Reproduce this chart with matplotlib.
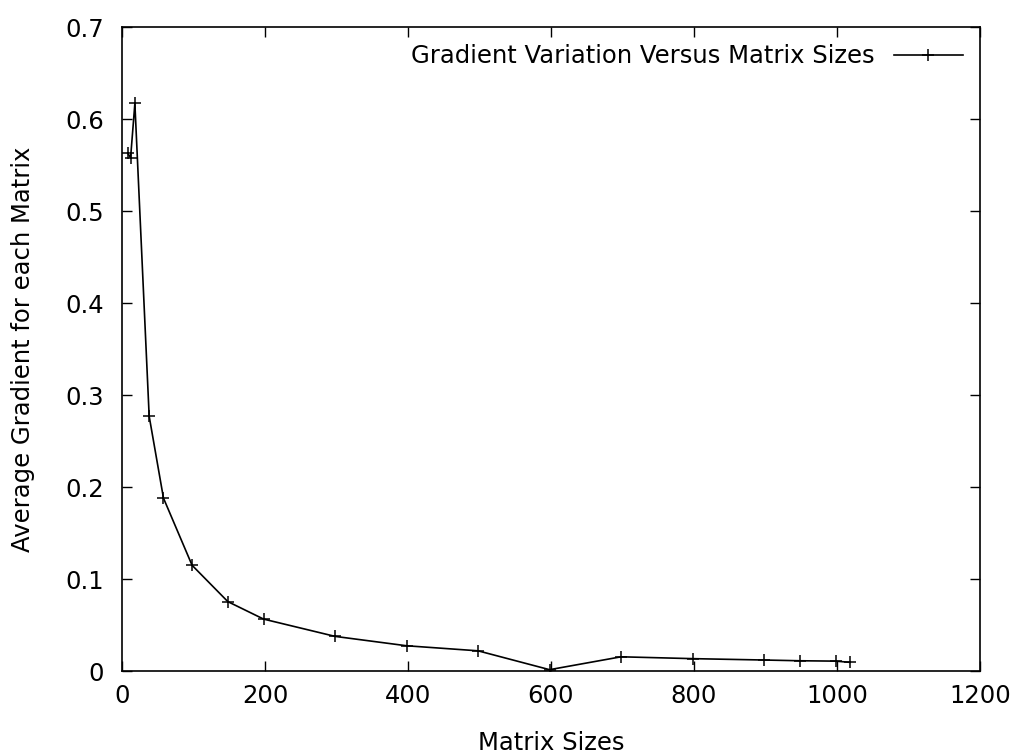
import matplotlib
matplotlib.use('Agg')
import matplotlib.pyplot as plt

# values
sizes = [8, 12, 18, 38, 58, 98, 148, 198, 298, 398, 498, 598, 698, 798, 898, 948, 998, 1018]
gradients = [0.563, 0.558, 0.617, 0.277, 0.188, 0.115, 0.0755, 0.0565, 0.0377, 0.0275,
             0.022, 0.0015, 0.0155, 0.0135, 0.012, 0.0112, 0.0108, 0.0095]
x_ticks = [0, 200, 400, 600, 800, 1000, 1200]
y_ticks = [0, 0.1, 0.2, 0.3, 0.4, 0.5, 0.6, 0.7]
y_tick_labels = ['0', '0.1', '0.2', '0.3', '0.4', '0.5', '0.6', '0.7']

plt.rcParams['font.family'] = ['DejaVu Sans']
plt.rcParams['font.size'] = 17.5

fig = plt.figure(figsize=(10.15, 7.54), dpi=100)
ax = fig.add_axes([0.1202, 0.110, 0.8453, 0.854])

ax.plot(sizes, gradients, color='black', linewidth=1.2, marker='+',
        markersize=9, markeredgewidth=1.1,
        label='Gradient Variation Versus Matrix Sizes')

ax.set_xlim(0, 1200)
ax.set_ylim(0, 0.7)
ax.set_xticks(x_ticks)
ax.set_yticks(y_ticks)
ax.set_yticklabels(y_tick_labels)
ax.tick_params(direction='in', length=7, width=1, top=True, right=True)
ax.tick_params(axis='x', pad=9)
ax.tick_params(axis='y', pad=13)
for s in ax.spines.values():
    s.set_linewidth(1.2)

ax.set_xlabel('Matrix Sizes', labelpad=17)
ax.set_ylabel('Average Gradient for each Matrix', labelpad=22)

ax.legend(loc='upper right', frameon=False, markerfirst=False,
          handlelength=2.85, handletextpad=0.78, borderaxespad=0.3)

fig.savefig('out.png', dpi=100)
